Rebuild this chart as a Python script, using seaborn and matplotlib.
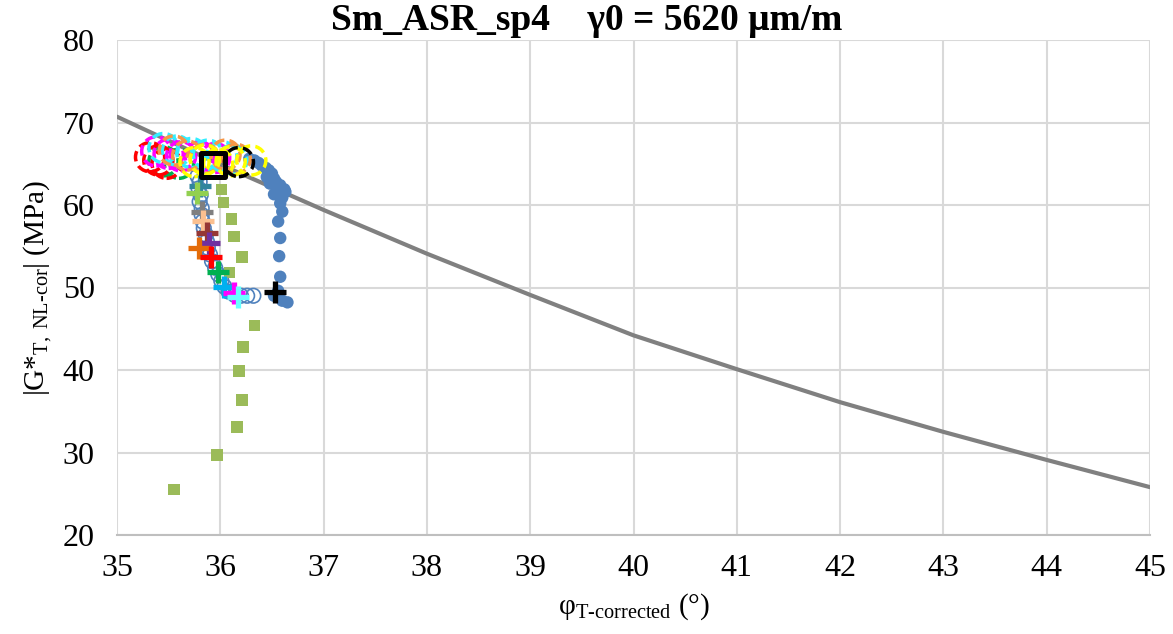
import numpy as np
import pandas as pd
import matplotlib
matplotlib.use("Agg")
import matplotlib.pyplot as plt
import seaborn as sns

# reference curve (grey line)
line_x = [35, 36, 37, 38, 39, 40, 41, 42, 43, 44, 45]
line_y = [70.7, 64.9, 59.4, 54.1, 49.1, 44.2, 40.1, 36.1, 32.5, 29.1, 25.8]

# filled blue circles
blue_x = [36.28, 36.33, 36.37, 36.40, 36.44, 36.47, 36.50, 36.45, 36.52, 36.54, 36.48, 36.58,
          36.55, 36.62, 36.63, 36.52, 36.60, 36.58, 36.60, 36.56, 36.58, 36.57, 36.58, 36.56,
          36.52, 36.60, 36.65]
blue_y = [65.6, 65.4, 65.1, 64.8, 64.5, 64.2, 63.8, 63.4, 63.2, 62.8, 62.6, 62.4,
          62.0, 61.9, 61.6, 61.3, 60.9, 60.2, 59.2, 58.0, 56.0, 53.8, 51.3, 49.6,
          49.0, 48.4, 48.2]

# hollow blue circles
open_x = [35.78, 35.80, 35.79, 35.81, 35.80, 35.82, 35.82, 35.83, 35.84, 35.86, 35.87, 35.88,
          35.90, 35.92, 35.95, 35.98, 36.01, 36.04, 36.08, 36.14, 36.20, 36.26, 36.32]
open_y = [63.5, 62.8, 62.0, 61.2, 60.4, 59.6, 58.8, 58.0, 57.2, 56.4, 55.6, 54.8,
          54.0, 53.2, 52.4, 51.6, 50.8, 50.1, 49.5, 49.1, 49.0, 49.0, 49.0]

# green squares
sq_x = [36.01, 36.03, 36.11, 36.13, 36.21, 36.09, 36.33, 36.22, 36.18, 36.21, 36.16, 35.97, 35.55]
sq_y = [61.9, 60.3, 58.3, 56.2, 53.7, 51.8, 45.4, 42.8, 39.9, 36.4, 33.1, 29.7, 25.5]

# dashed large circles at the top (colour -> points)
dash_colors = ['#00B050', '#FF0000', '#FF00FF', '#33EEFF', '#F79646', '#FFFF00', '#000000']
dash_x = [[35.45, 35.60],
          [35.32, 35.40, 35.48],
          [35.38, 35.50, 35.62, 35.80, 35.95],
          [35.45, 35.58, 35.72, 35.88, 36.02, 36.12],
          [35.55, 35.68, 35.85, 36.05, 36.15],
          [35.75, 35.85, 35.98, 36.10, 36.30],
          [36.18]]
dash_y = [[65.3, 65.0],
          [65.8, 65.4, 65.0],
          [66.5, 66.2, 65.9, 65.9, 65.7],
          [66.9, 66.6, 66.3, 66.1, 65.9, 65.5],
          [66.6, 66.0, 65.6, 66.1, 65.6],
          [65.2, 65.5, 65.0, 65.3, 65.4],
          [65.2]]

# plus markers
plus_colors = ['#31859C', '#92D050', '#7F7F7F', '#FAC090', '#953735', '#7030A0', '#E46C0A',
               '#FF0000', '#00B050', '#00B0F0', '#FF00FF', '#66FFFF', '#000000']
plus_x = [35.80, 35.77, 35.82, 35.83, 35.87, 35.89, 35.79, 35.91, 35.98, 36.04, 36.13, 36.17, 36.53]
plus_y = [62.3, 61.4, 59.1, 58.1, 56.6, 55.4, 54.8, 53.7, 51.9, 50.1, 49.3, 48.8, 49.5]

# black square
box_x = [35.93]
box_y = [64.85]

sns.set_style("white")
plt.rcParams['font.family'] = ['Liberation Serif', 'DejaVu Serif']
plt.rcParams['mathtext.fontset'] = 'custom'
plt.rcParams['mathtext.rm'] = 'Liberation Serif'
plt.rcParams['mathtext.it'] = 'Liberation Serif:italic'
plt.rcParams['text.color'] = 'black'
plt.rcParams['axes.labelcolor'] = 'black'
plt.rcParams['xtick.color'] = 'black'
plt.rcParams['ytick.color'] = 'black'

fig = plt.figure(figsize=(11.73, 6.34), dpi=100)
ax = fig.add_axes([117 / 1173, 1 - 535 / 634, (1150 - 117) / 1173, (535 - 40) / 634])

sns.lineplot(x=line_x, y=line_y, color='#808080', lw=3, ax=ax, zorder=2)
sns.scatterplot(x=open_x, y=open_y, marker='o', s=110, facecolor='none', edgecolor='#4F81BD',
                linewidth=1.2, ax=ax, zorder=3)
sns.scatterplot(x=blue_x, y=blue_y, marker='o', s=80, color='#4F81BD', edgecolor='none', ax=ax, zorder=3)
sns.scatterplot(x=sq_x, y=sq_y, marker='s', s=70, color='#9BBB59', edgecolor='none', ax=ax, zorder=3)
for c, xs, ys in zip(dash_colors, dash_x, dash_y):
    sns.scatterplot(x=xs, y=ys, marker='o', s=440, facecolor='none', edgecolor=c,
                    linewidth=2.5, linestyle=(0, (3, 1.5)), ax=ax, zorder=4)
for c, xs, ys in zip(plus_colors, plus_x, plus_y):
    sns.scatterplot(x=[xs], y=[ys], marker='+', s=260, color=c, linewidth=3.8, ax=ax, zorder=5)
sns.scatterplot(x=box_x, y=box_y, marker='s', s=280, facecolor='none', edgecolor='black',
                linewidth=3.6, ax=ax, zorder=6)

ax.set_xlim(35, 45)
ax.set_ylim(20, 80)
ax.set_xticks(range(35, 46))
ax.set_yticks(range(20, 81, 10))
ax.grid(True, color='#D9D9D9', lw=1.5)
ax.set_axisbelow(True)
for s in ['top', 'right', 'left']:
    ax.spines[s].set_visible(False)
ax.spines['bottom'].set_color('#BFBFBF')
ax.spines['bottom'].set_linewidth(1.5)
ax.tick_params(axis='both', length=0, labelsize=23)
ax.tick_params(axis='y', pad=16)
ax.tick_params(axis='x', pad=14)

fig.text(0.5, 1 - 20 / 634, 'Sm_ASR_sp4    γ0 = 5620 μm/m', fontsize=27, fontweight='bold',
         ha='center', va='center')
ax.set_xlabel(r'φ$_{\mathrm{T‐corrected}}$ (°)', fontsize=21, labelpad=6)
ax.set_ylabel(r'|G*$_{\mathrm{T,\ NL‐cor}}$| (MPa)', fontsize=21, labelpad=6)

fig.savefig('out.png', dpi=100)
